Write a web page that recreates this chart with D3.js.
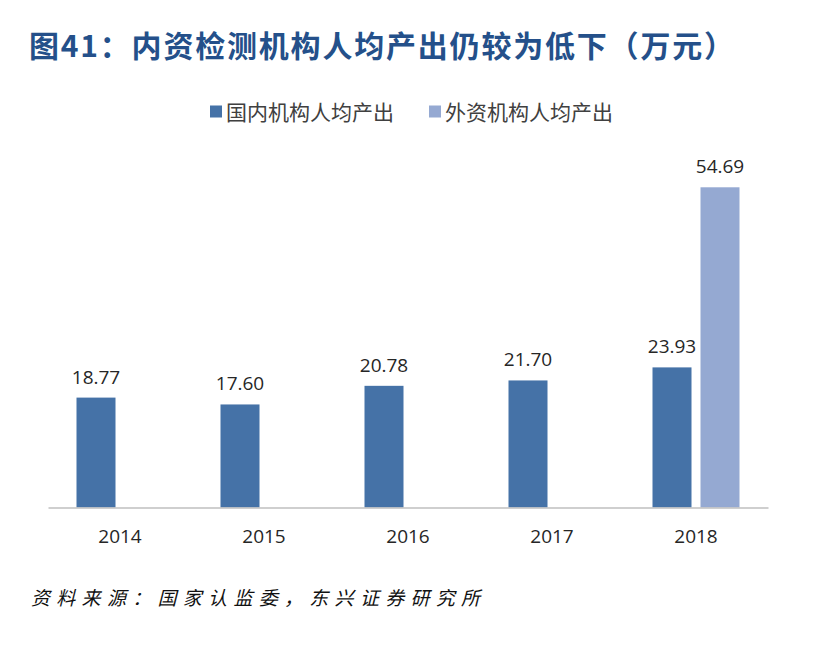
<!DOCTYPE html>
<html>
<head>
<meta charset="utf-8">
<script src="https://cdn.jsdelivr.net/npm/d3@7.9.0/dist/d3.min.js"></script>
<style>
  body { margin: 0; background: #fff; }
  svg { display: block; }
</style>
</head>
<body>
<svg id="chart" width="816" height="646"></svg>
<script>
// data
const years = ["2014", "2015", "2016", "2017", "2018"];
const domestic = [18.77, 17.60, 20.78, 21.70, 23.93];
const foreign = [null, null, null, null, 54.69];
const seriesNames = ["国内机构人均产出", "外资机构人均产出"];
const seriesKeys = ["domestic", "foreign"];
const colors = ["#4572A7", "#95A9D2"];

const svg = d3.select("#chart");
const cjk = "'Noto Sans CJK SC', 'Noto Sans', sans-serif";
const num = "'Open Sans', 'Liberation Sans', sans-serif";

// title
svg.append("text")
    .attr("x", 29)
    .attr("y", 57)
    .attr("font-family", cjk)
    .attr("font-weight", "bold")
    .attr("font-size", 30)
    .attr("letter-spacing", 1.8)
    .attr("fill", "#24508A")
    .text("图41：内资检测机构人均产出仍较为低下（万元）");

// scales
const x = d3.scaleBand().domain(years).range([48, 768]).padding(0);
const xs = d3.scaleBand().domain(seriesKeys).range([0, x.bandwidth()])
    .paddingInner(0.1875).paddingOuter(0.59375);
const y = d3.scaleLinear().domain([0, 60]).range([507.5, 156.2]);

// build rows for bars
const rows = [];
years.forEach((yr, i) => {
    if (domestic[i] != null) rows.push({ year: yr, key: "domestic", value: domestic[i] });
    if (foreign[i] != null) rows.push({ year: yr, key: "foreign", value: foreign[i] });
});

const bars = svg.append("g");
bars.selectAll("rect")
    .data(rows)
    .enter()
    .append("rect")
    .attr("x", d => x(d.year) + xs(d.key))
    .attr("y", d => y(d.value))
    .attr("width", xs.bandwidth())
    .attr("height", d => y(0) - y(d.value))
    .attr("fill", d => colors[seriesKeys.indexOf(d.key)]);

// value labels
bars.selectAll("text")
    .data(rows)
    .enter()
    .append("text")
    .attr("x", d => x(d.year) + xs(d.key) + xs.bandwidth() / 2)
    .attr("y", d => y(d.value) - 14)
    .attr("text-anchor", "middle")
    .attr("font-family", num)
    .attr("font-size", 19)
    .attr("fill", "#262626")
    .text(d => d.value.toFixed(2));

// x axis
const xAxis = svg.append("g")
    .attr("transform", `translate(0,${y(0)})`)
    .call(d3.axisBottom(x).tickSize(0).tickPadding(22));
xAxis.select(".domain").attr("stroke", "#BFBFBF").attr("stroke-width", 1.5);
xAxis.selectAll("text")
    .attr("font-family", num)
    .attr("font-size", 19)
    .attr("fill", "#262626");

// legend
const legendX = [210, 429];
const legend = svg.append("g");
seriesNames.forEach((name, i) => {
    legend.append("rect")
        .attr("x", legendX[i])
        .attr("y", 105.5)
        .attr("width", 12)
        .attr("height", 12)
        .attr("fill", colors[i]);
    legend.append("text")
        .attr("x", legendX[i] + 16)
        .attr("y", 119.5)
        .attr("font-family", cjk)
        .attr("font-size", 21)
        .attr("fill", "#404040")
        .text(name);
});

// source note
svg.append("text")
    .attr("x", 31)
    .attr("y", 605)
    .attr("font-family", cjk)
    .attr("font-style", "italic")
    .attr("font-size", 19)
    .attr("letter-spacing", 6.3)
    .attr("fill", "#111")
    .text("资料来源：国家认监委，东兴证券研究所");
</script>
</body>
</html>
